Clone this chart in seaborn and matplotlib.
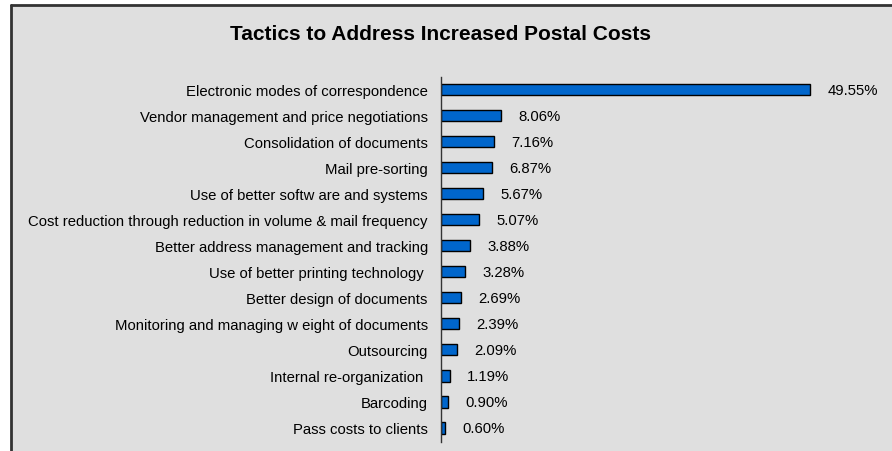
import matplotlib
matplotlib.use("Agg")
import matplotlib.pyplot as plt
import seaborn as sns
import pandas as pd
from matplotlib.patches import Rectangle

tactics = [
    "Electronic modes of correspondence",
    "Vendor management and price negotiations",
    "Consolidation of documents",
    "Mail pre-sorting",
    "Use of better softw are and systems",
    "Cost reduction through reduction in volume & mail frequency",
    "Better address management and tracking",
    "Use of better printing technology ",
    "Better design of documents",
    "Monitoring and managing w eight of documents",
    "Outsourcing",
    "Internal re-organization ",
    "Barcoding",
    "Pass costs to clients",
]
shares = [49.55, 8.06, 7.16, 6.87, 5.67, 5.07, 3.88, 3.28, 2.69, 2.39, 2.09, 1.19, 0.90, 0.60]
value_labels = ["49.55%", "8.06%", "7.16%", "6.87%", "5.67%", "5.07%", "3.88%",
                "3.28%", "2.69%", "2.39%", "2.09%", "1.19%", "0.90%", "0.60%"]
title = "Tactics to Address Increased Postal Costs"

df = pd.DataFrame({"tactic": tactics, "share": shares})

sns.set_style("white")
plt.rcParams["font.family"] = ["Liberation Sans", "DejaVu Sans"]

W, H = 892, 452
fig = plt.figure(figsize=(W / 100, H / 100), dpi=100)
fig.patch.set_facecolor("white")

bg = "#dfdfdf"
# panel background with dark frame on left and top
panel = Rectangle((10.5 / W, 0), 1.0, 1 - 5.5 / H, transform=fig.transFigure,
                  facecolor=bg, edgecolor="none", zorder=-2)
fig.patches.append(panel)
fig.lines.append(plt.Line2D([10.5 / W, 10.5 / W], [0, 1 - 5.5 / H], transform=fig.transFigure,
                            color="#333333", lw=2.0, zorder=-1))
fig.lines.append(plt.Line2D([10.5 / W, 1.0], [1 - 5.5 / H, 1 - 5.5 / H], transform=fig.transFigure,
                            color="#333333", lw=2.0, zorder=-1))

ax_left, ax_top, ax_bottom = 441, 78, 443
px_per_unit = 369 / 49.55
xmax = 55
ax = fig.add_axes([ax_left / W, 1 - ax_bottom / H, xmax * px_per_unit / W, (ax_bottom - ax_top) / H])
ax.set_zorder(2)
ax.set_facecolor("none")

sns.barplot(data=df, x="share", y="tactic", orient="h", ax=ax, color="#0066cc",
            saturation=1, width=0.43, edgecolor="black", linewidth=1.0)

ax.set_xlim(0, xmax)
ax.set_ylim(13.54, -0.49)
ax.set_xlabel("")
ax.set_ylabel("")
ax.set_xticks([])
for s in ["top", "right", "bottom"]:
    ax.spines[s].set_visible(False)
ax.spines["left"].set_color("#333333")
ax.spines["left"].set_linewidth(1.0)
ax.tick_params(axis="y", length=0, pad=9.5, labelsize=10.7, labelcolor="black")

for i, (v, lab) in enumerate(zip(shares, value_labels)):
    ax.annotate(lab, xy=(v, i), xytext=(12.5, 0), textcoords="offset points",
                ha="left", va="center", fontsize=10.7, color="black")

fig.text(440 / W, 1 - 34 / H, title, ha="center", va="center",
         fontsize=15, fontweight="bold", color="black", zorder=3)

fig.savefig("out.png", dpi=100)
